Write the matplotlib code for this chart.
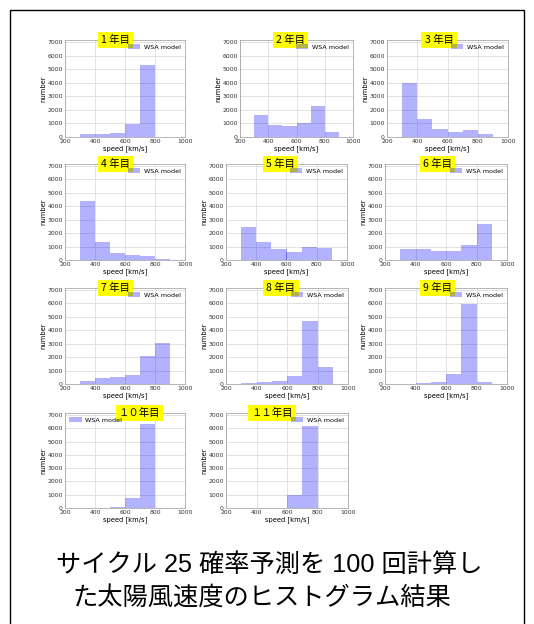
import numpy as np
import matplotlib
matplotlib.use("Agg")
import matplotlib.pyplot as plt
from matplotlib.patches import Rectangle

# histogram bin edges (km/s)
bin_edges = [200, 300, 400, 500, 600, 700, 800, 900, 1000]

# counts per bin for each year (200-300, 300-400, ..., 900-1000)
year1 = [0, 200, 200, 300, 950, 5300, 0, 0]
year2 = [0, 1600, 900, 800, 1000, 2300, 400, 0]
year3 = [0, 4000, 1300, 600, 400, 550, 200, 0]
year4 = [0, 4400, 1350, 550, 350, 300, 50, 0]
year5 = [0, 2450, 1350, 800, 600, 950, 900, 0]
year6 = [0, 850, 850, 700, 700, 1150, 2650, 0]
year7 = [0, 250, 450, 500, 650, 2050, 3050, 0]
year8 = [0, 80, 150, 250, 600, 4700, 1300, 0]
year9 = [0, 0, 50, 150, 750, 5950, 150, 0]
year10 = [0, 0, 0, 50, 750, 6300, 0, 0]
year11 = [0, 0, 0, 0, 950, 6200, 0, 0]
counts = [year1, year2, year3, year4, year5, year6, year7, year8, year9, year10, year11]

titles = ["1 年目", "2 年目", "3 年目", "4 年目", "5 年目", "6 年目",
          "7 年目", "8 年目", "9 年目", "１０年目", "１１年目"]
caption1 = "サイクル 25 確率予測を 100 回計算し"
caption2 = "た太陽風速度のヒストグラム結果"

W, H = 534, 624
fig = plt.figure(figsize=(W / 100, H / 100), dpi=100)
fig.patch.set_facecolor("white")

# axes boxes in pixels (x0, x1, y0, y1)
boxes = [
    (65, 185, 40, 137), (240, 353, 40, 137), (387, 508, 40, 137),
    (65, 185, 164, 260), (226, 347, 164, 260), (385, 507, 164, 260),
    (65, 185, 288, 384), (226, 348, 288, 384), (385, 507, 288, 384),
    (65, 185, 413, 508), (226, 348, 413, 508),
]
title_x = [0.42, 0.45, 0.43, 0.42, 0.45, 0.43, 0.42, 0.45, 0.43, 0.62, 0.38]

jp = ["Noto Sans CJK JP", "DejaVu Sans"]
fs = 4.4

for i, c in enumerate(counts):
    x0, x1, y0, y1 = boxes[i]
    ax = fig.add_axes([x0 / W, 1 - y1 / H, (x1 - x0) / W, (y1 - y0) / H])
    ax.hist(bin_edges[:-1], bins=bin_edges, weights=c, color="blue",
            alpha=0.3, label="WSA model", zorder=2)
    ax.set_xlim(200, 1000)
    ax.set_ylim(0, 7150)
    ax.set_xticks([200, 400, 600, 800, 1000])
    ax.set_yticks(range(0, 7001, 1000))
    ax.grid(True, color="#dddddd", linewidth=0.6, zorder=0)
    ax.tick_params(labelsize=fs, length=0, pad=1.5, colors="#333333")
    for s in ax.spines.values():
        s.set_color("#999999")
        s.set_linewidth(0.5)
    ax.set_xlabel("speed [km/s]", fontsize=fs + 0.5, labelpad=1)
    ax.set_ylabel("number", fontsize=fs + 0.5, labelpad=1)
    loc = "upper left" if i == 9 else "upper right"
    ax.legend(loc=loc, fontsize=fs + 0.2, frameon=False, handlelength=1.9,
              handletextpad=0.6, borderaxespad=0.3)
    ax.text(title_x[i], 1.0, titles[i], transform=ax.transAxes,
            ha="center", va="center", fontsize=7.5, family=jp,
            bbox=dict(boxstyle="square,pad=0.3", facecolor="#ffff00",
                      edgecolor="none"), zorder=5)

cap = ["Liberation Sans", "Noto Sans CJK JP"]
fig.text(269 / W, 1 - 565 / H, caption1, ha="center", va="center",
         fontsize=18.2, family=cap)
fig.text(262 / W, 1 - 598 / H, caption2, ha="center", va="center",
         fontsize=18.2, family=cap)

# outer frame
fig.patches.append(Rectangle((10 / W, -0.01), 514 / W, 1 - 10 / H + 0.01,
                             transform=fig.transFigure, fill=False,
                             edgecolor="black", linewidth=1))

fig.savefig("out.png", dpi=100)
